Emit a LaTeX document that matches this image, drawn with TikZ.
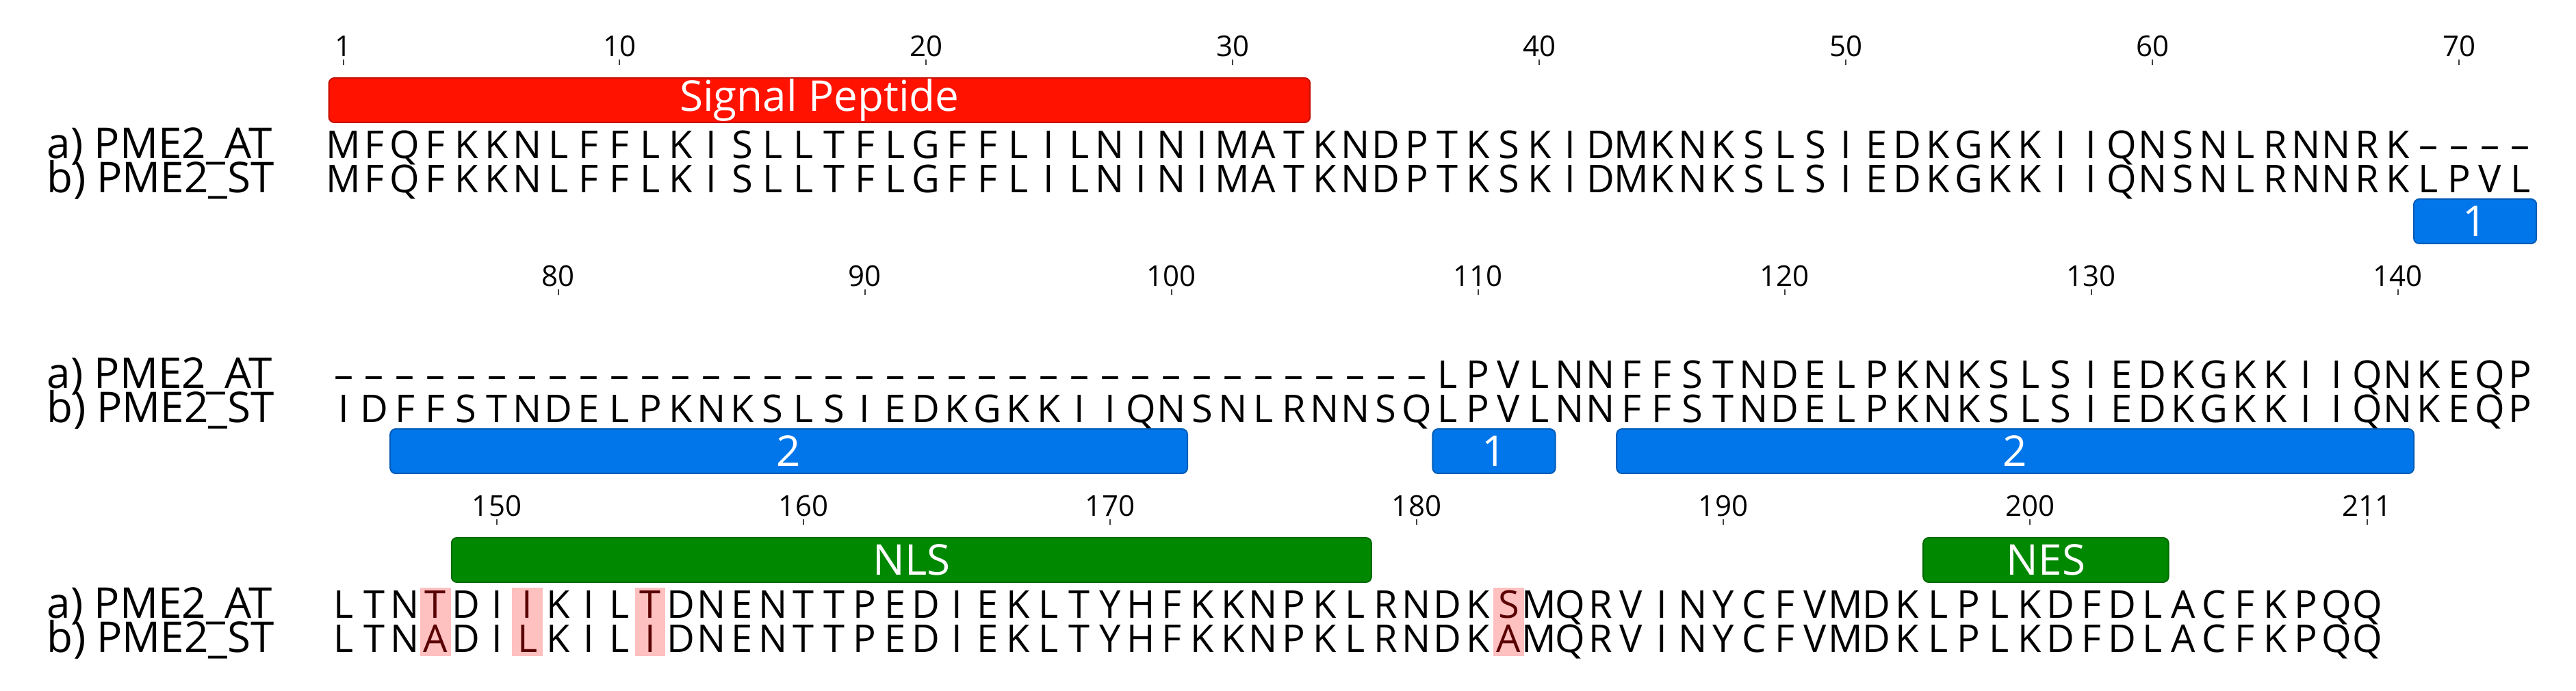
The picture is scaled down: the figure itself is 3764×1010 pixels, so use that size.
\documentclass[tikz,border=0pt]{standalone}
\usepackage{fontspec}
\setmainfont{Open Sans}
\definecolor{barred}{RGB}{255,18,0}
\definecolor{barblue}{RGB}{0,118,234}
\definecolor{bargreen}{RGB}{0,136,0}
\definecolor{hlpink}{RGB}{255,192,192}
\definecolor{hltext}{RGB}{90,0,0}
\newcommand\seqf{\fontsize{11.2pt}{13pt}\selectfont}
\newcommand\lblf{\fontsize{12.4pt}{14pt}\selectfont}
\newcommand\tickf{\fontsize{8.4pt}{10pt}\selectfont}
\def\xo{502}
\def\cw{44.8}
\newcommand\seqrow[4]{%
  \foreach \c [count=\i from #2] in {#4} {
    \node[seq] (#1-\i) at ({\xo+\cw*\i},#3) {\c};
  }%
}
\newcommand\tickat[4]{%
  \node[tnum] (#1) at ({\xo+\cw*#2},#3) {#4};
  \draw[tickln] ({\xo+\cw*#2},{#3+4}) -- ++(0,8);
}
\newcommand\featbar[6]{%
  \pgfmathsetmacro\bl{\xo+\cw*(#2-0.5)}%
  \pgfmathsetmacro\bw{\cw*(#3-#2+1)*0.2}%
  \node[featbox, fill=#5, draw=#5!78!black, minimum width=\bw pt, minimum height=13pt, anchor=north west] (#1) at (\bl,#4) {#6};
}
\newcommand\hlat[2]{%
  \node[hlbox] (#1) at ({\xo+\cw*#2},909) {};
}
\tikzset{
  seq/.style={anchor=base, inner sep=0pt, font=\seqf},
  lbl/.style={anchor=base west, inner sep=0pt, font=\lblf},
  tnum/.style={anchor=base, inner sep=0pt, font=\tickf},
  tickln/.style={line width=0.4pt, draw=black!75},
  featbox/.style={rectangle, rounded corners=1.6pt, inner sep=0pt, text=white, font=\lblf, line width=0.4pt},
  hlbox/.style={rectangle, inner sep=0pt, fill=hlpink, minimum width=8.96pt, minimum height=20pt},
}
\begin{document}
\begin{tikzpicture}[x=0.2pt,y=-0.2pt]
\useasboundingbox (0,0) rectangle (3764,1010);
% ---------------- Row 1 ----------------
\tickat{n1}{0}{83}{1}
\tickat{n10}{9}{83}{10}
\tickat{n20}{19}{83}{20}
\tickat{n30}{29}{83}{30}
\tickat{n40}{39}{83}{40}
\tickat{n50}{49}{83}{50}
\tickat{n60}{59}{83}{60}
\tickat{n70}{69}{83}{70}
\featbar{sigpep}{0}{31}{113}{barred}{Signal Peptide}
\node[lbl] (la1) at (68,232) {a) PME2\_AT};
\node[lbl] (lb1) at (68,282) {b) PME2\_ST};
\seqrow{r1a}{0}{232}{M,F,Q,F,K,K,N,L,F,F,L,K,I,S,L,L,T,F,L,G,F,F,L,I,L,N,I,N,I,M,A,T,K,N,D,P,T,K,S,K,I,D,M,K,N,K,S,L,S,I,E,D,K,G,K,K,I,I,Q,N,S,N,L,R,N,N,R,K,–,–,–,–}
\seqrow{r1b}{0}{282}{M,F,Q,F,K,K,N,L,F,F,L,K,I,S,L,L,T,F,L,G,F,F,L,I,L,N,I,N,I,M,A,T,K,N,D,P,T,K,S,K,I,D,M,K,N,K,S,L,S,I,E,D,K,G,K,K,I,I,Q,N,S,N,L,R,N,N,R,K,L,P,V,L}
\featbar{rep1a}{68}{71}{290}{barblue}{1}
% ---------------- Row 2 ----------------
\tickat{n80}{7}{419}{80}
\tickat{n90}{17}{419}{90}
\tickat{n100}{27}{419}{100}
\tickat{n110}{37}{419}{110}
\tickat{n120}{47}{419}{120}
\tickat{n130}{57}{419}{130}
\tickat{n140}{67}{419}{140}
\node[lbl] (la2) at (68,568) {a) PME2\_AT};
\node[lbl] (lb2) at (68,618) {b) PME2\_ST};
\seqrow{r2a}{0}{568}{–,–,–,–,–,–,–,–,–,–,–,–,–,–,–,–,–,–,–,–,–,–,–,–,–,–,–,–,–,–,–,–,–,–,–,–,L,P,V,L,N,N,F,F,S,T,N,D,E,L,P,K,N,K,S,L,S,I,E,D,K,G,K,K,I,I,Q,N,K,E,Q,P}
\seqrow{r2b}{0}{618}{I,D,F,F,S,T,N,D,E,L,P,K,N,K,S,L,S,I,E,D,K,G,K,K,I,I,Q,N,S,N,L,R,N,N,S,Q,L,P,V,L,N,N,F,F,S,T,N,D,E,L,P,K,N,K,S,L,S,I,E,D,K,G,K,K,I,I,Q,N,K,E,Q,P}
\featbar{rep2a}{2}{27}{626}{barblue}{2}
\featbar{rep1b}{36}{39}{626}{barblue}{1}
\featbar{rep2b}{42}{67}{626}{barblue}{2}
% ---------------- Row 3 ----------------
\tickat{n150}{5}{755}{150}
\tickat{n160}{15}{755}{160}
\tickat{n170}{25}{755}{170}
\tickat{n180}{35}{755}{180}
\tickat{n190}{45}{755}{190}
\tickat{n200}{55}{755}{200}
\tickat{n211}{66}{755}{211}
\featbar{nls}{4}{33}{785}{bargreen}{NLS}
\featbar{nes}{52}{59}{785}{bargreen}{NES}
\hlat{h1}{3}
\hlat{h2}{6}
\hlat{h3}{10}
\hlat{h4}{38}
\node[lbl] (la3) at (68,904) {a) PME2\_AT};
\node[lbl] (lb3) at (68,954) {b) PME2\_ST};
\seqrow{r3a}{0}{904}{L,T,N,{\color{hltext}T},D,I,{\color{hltext}I},K,I,L,{\color{hltext}T},D,N,E,N,T,T,P,E,D,I,E,K,L,T,Y,H,F,K,K,N,P,K,L,R,N,D,K,{\color{hltext}S},M,Q,R,V,I,N,Y,C,F,V,M,D,K,L,P,L,K,D,F,D,L,A,C,F,K,P,Q,Q}
\seqrow{r3b}{0}{954}{L,T,N,{\color{hltext}A},D,I,{\color{hltext}L},K,I,L,{\color{hltext}I},D,N,E,N,T,T,P,E,D,I,E,K,L,T,Y,H,F,K,K,N,P,K,L,R,N,D,K,{\color{hltext}A},M,Q,R,V,I,N,Y,C,F,V,M,D,K,L,P,L,K,D,F,D,L,A,C,F,K,P,Q,Q}
\end{tikzpicture}
\end{document}
